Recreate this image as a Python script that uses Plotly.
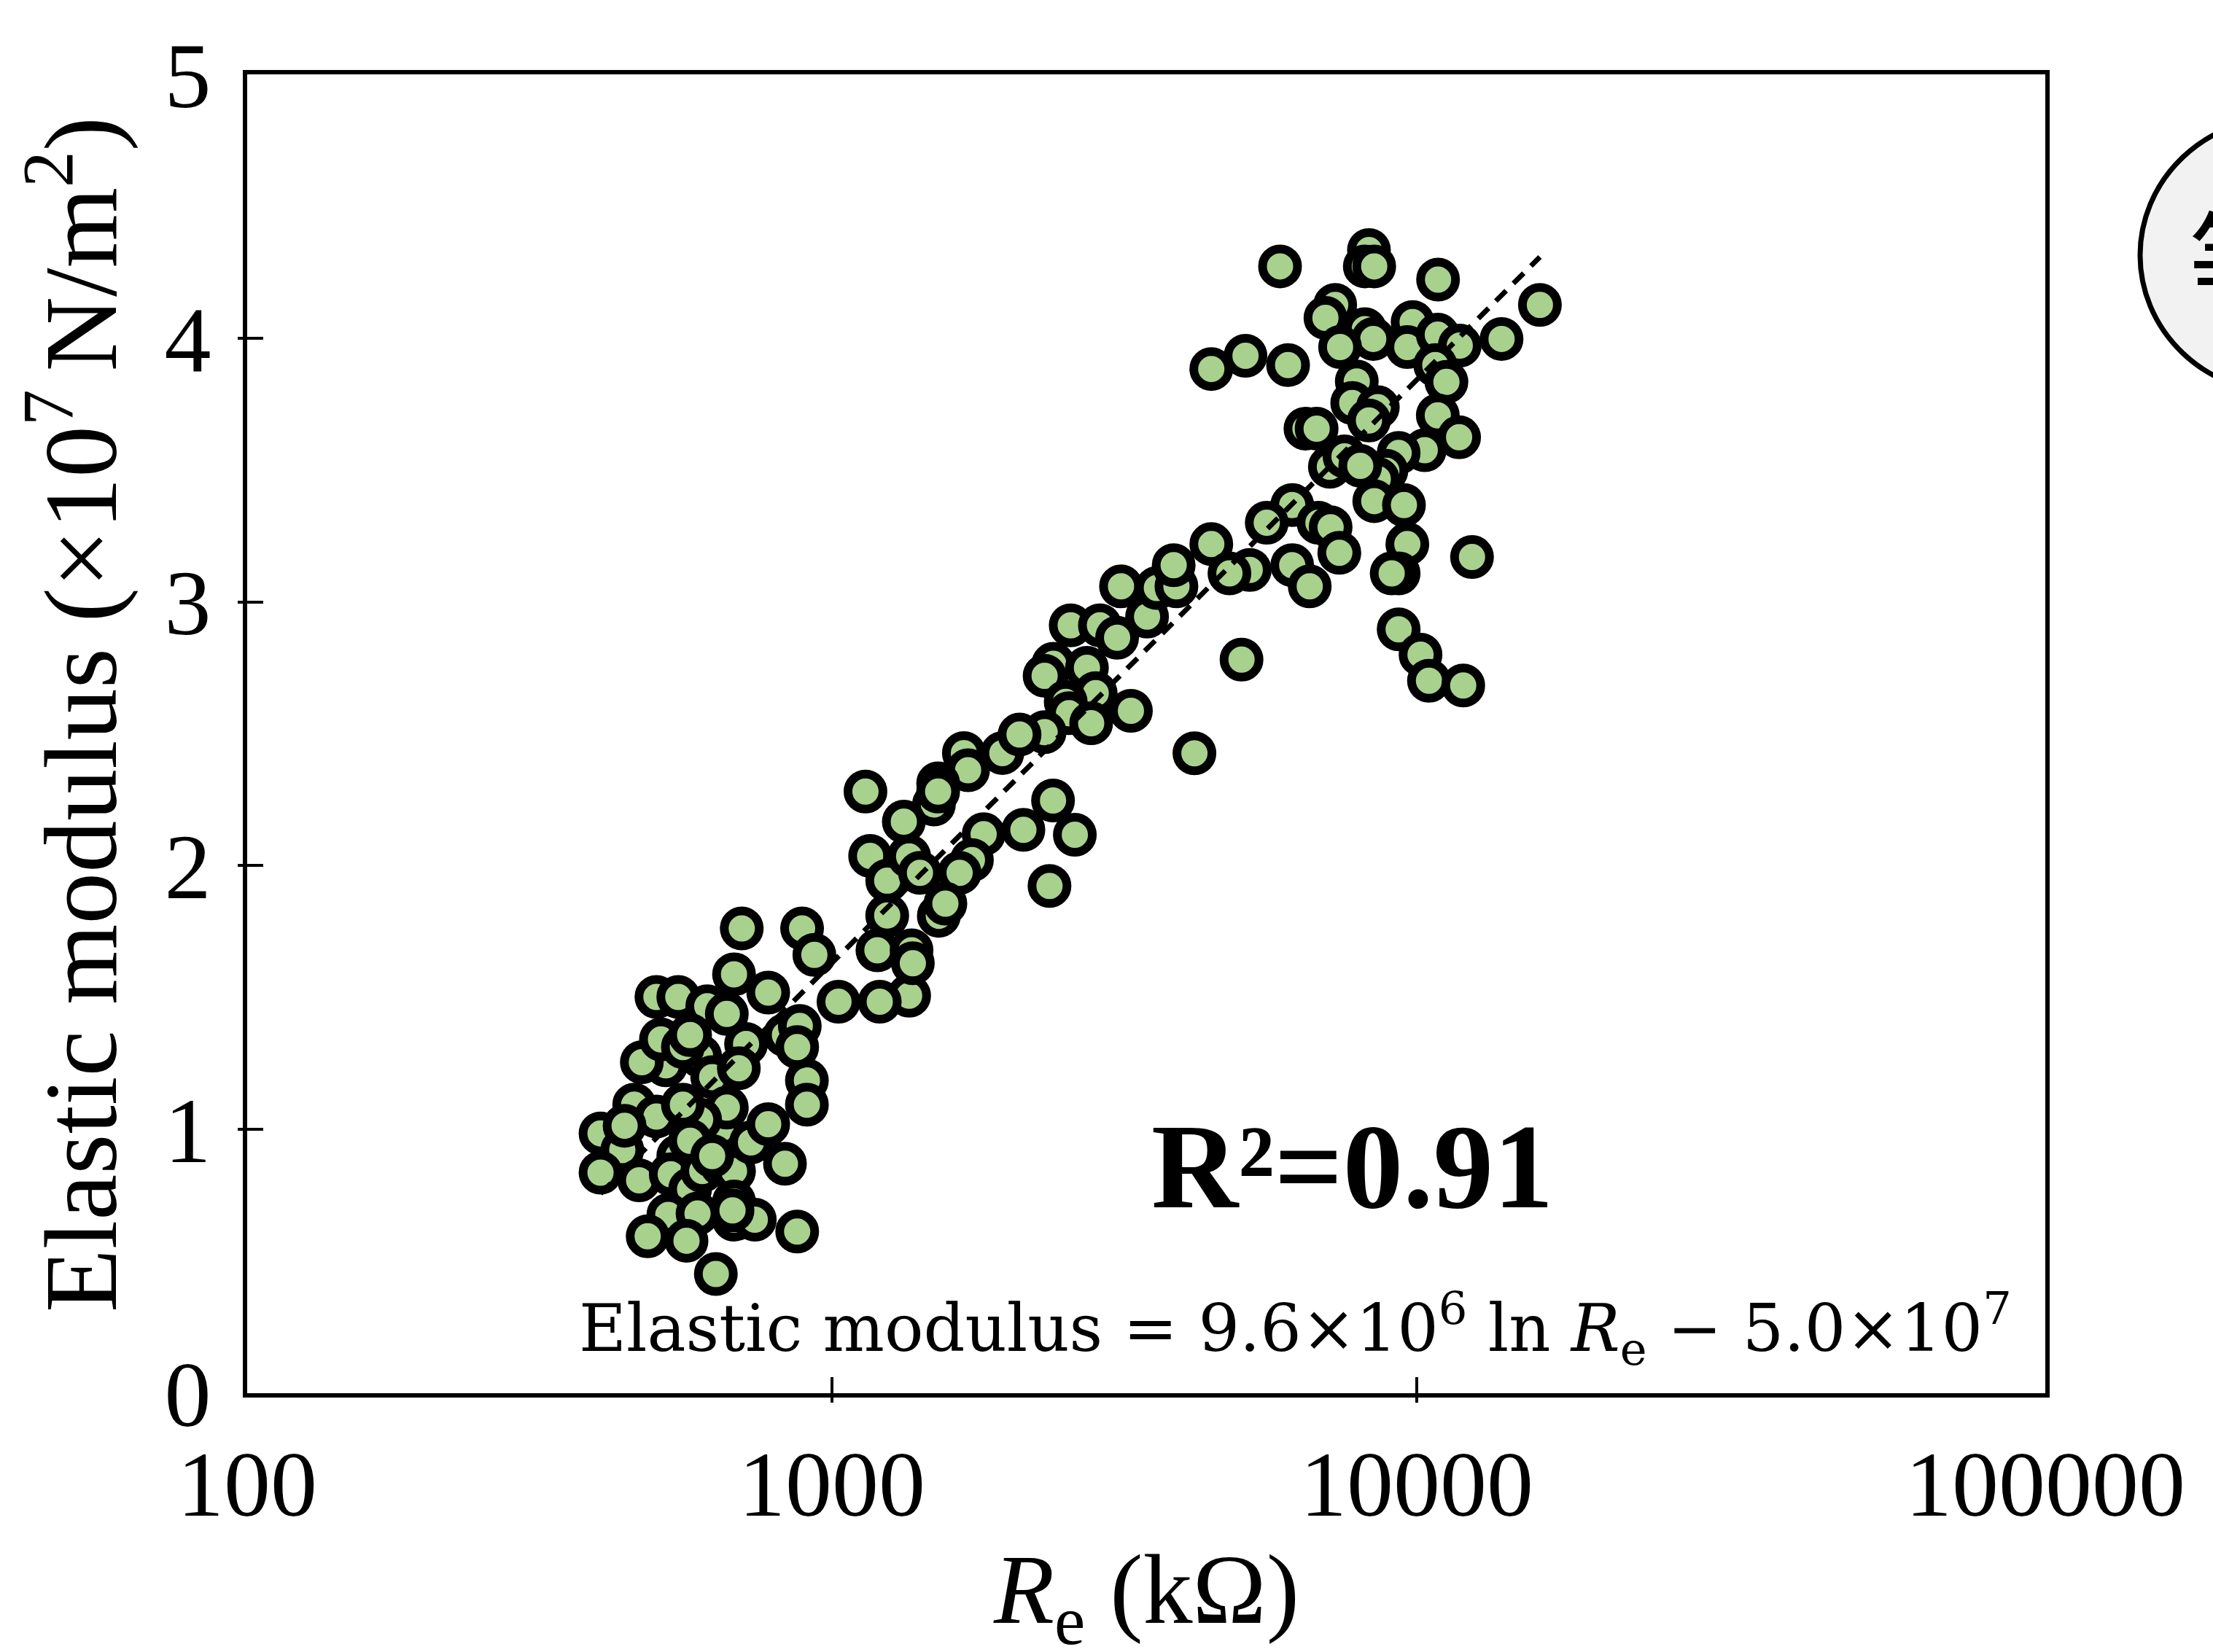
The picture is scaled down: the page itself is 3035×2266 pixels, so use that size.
import numpy as np
import plotly.graph_objects as go

# ---------------- data ----------------
re_kohm = [
    # lower-left cluster
    701, 889, 933, 501, 546, 612, 680, 778, 831, 881, 713, 595, 520, 473, 510, 556,
    624, 693, 906, 906, 459, 501, 402, 438, 442, 402, 468, 546, 530, 572, 600, 645,
    648, 680, 727, 778, 831, 661, 595, 556, 525, 589, 680, 680, 738, 872, 484, 564,
    633, 572, 661, 872, 572, 624, 676,
    # middle band
    1162, 1243, 1243, 1196, 1368, 1355, 1355, 1026, 1207,
    1141, 1681, 1956, 1709, 2560, 2872, 3073, 3458, 3121, 3594, 3882, 5016, 4167,
    2391, 2729, 2310, 2825, 2510, 2543, 3245, 2775, 2310, 2093, 1519, 1494, 1519,
    1327, 1414, 1817, 2125, 2388, 2602, 2355, 1735, 1653, 1523, 1563, 1375,
    # upper-right cluster
    5837, 8284, 8150, 8458, 10875, 16240, 7253, 6980, 8150, 9838, 8426, 9636, 10864,
    11845, 13964, 7394, 4453, 5095, 6025, 10757, 11240, 7897, 7756, 8579, 8284,
    10864, 11815, 10320, 6452, 6742, 7102, 7524, 9312, 8872, 8577, 8459, 9508, 8005,
    6124, 5540, 6790, 7124, 7372, 9636, 4453, 5181, 4783, 6124, 6561, 9312, 9060,
    3840, 12430, 9312, 10150, 10493, 12007,
]
elastic_1e7 = [
    1.762, 1.762, 1.662, 1.502, 1.502, 1.467, 1.588, 1.519, 1.358, 1.392, 1.324, 1.278,
    1.243, 1.255, 1.341, 1.312, 1.198, 1.232, 1.186, 1.094, 1.094, 1.049, 0.985, 0.922,
    1.014, 0.836, 0.807, 0.899, 0.830, 0.773, 0.842, 1.003, 0.865, 0.842, 0.951, 1.020,
    0.870, 1.083, 1.037, 1.094, 0.676, 0.681, 0.727, 0.658, 0.658, 0.613, 0.595, 0.578,
    0.452, 1.358, 1.438, 1.312, 0.957, 0.899, 0.693,
    2.037, 1.943, 1.811, 1.679, 1.679, 2.035, 1.507, 1.484, 1.484,
    2.281, 2.427, 2.427, 2.362, 2.911, 2.911, 2.864, 2.944, 3.059, 3.053, 3.059, 2.781,
    2.426, 2.765, 2.750, 2.720, 2.654, 2.621, 2.578, 2.587, 2.540, 2.506, 2.497, 2.312,
    2.232, 2.281, 2.167, 1.973, 2.119, 2.136, 2.247, 2.117, 1.923, 2.021, 1.973, 1.810,
    1.856, 1.630,
    4.272, 4.334, 4.272, 4.272, 4.222, 4.126, 4.126, 4.077, 4.034, 4.061, 3.997, 3.966,
    4.013, 3.972, 3.997, 3.966, 3.883, 3.933, 3.898, 3.898, 3.834, 3.836, 3.754, 3.738,
    3.688, 3.707, 3.624, 3.575, 3.657, 3.657, 3.512, 3.552, 3.565, 3.497, 3.466, 3.382,
    3.367, 3.516, 3.367, 3.300, 3.300, 3.283, 3.186, 3.219, 3.219, 3.121, 3.108, 3.139,
    3.059, 3.108, 3.108, 3.139, 3.170, 2.896, 2.800, 2.701, 2.683,
]
x_tick_values = [100, 1000, 10000]
x_tick_labels = ["100", "1000", "10000", "100000"]
y_tick_values = [0, 1, 2, 3, 4, 5]
y_tick_labels = ["0", "1", "2", "3", "4", "5"]
trend_slope = 9.6e6       # Elastic modulus = 9.6x10^6 ln Re - 5.0x10^7
trend_intercept = -5.0e7
y_unit = 1e7
r2_text = "R²=0.91"
equation_text = ("Elastic modulus = 9.6×10<sup>6</sup> ln <i>R</i><sub>e</sub>"
                 " − 5.0×10<sup>7</sup>")
y_title = "Elastic modulus (×10<sup>7 </sup>N/m<sup>2</sup>)"
x_title = "<i>R</i><sub>e</sub> (kΩ)"
bubble_char = "等"

# ---------------- layout geometry (pixels) ----------------
W, H = 3035, 2266
PL, PR, PT, PB = 339, 2805, 102, 1911
DECADE_PX = 802
x_range = [2, 2 + (PR - PL) / DECADE_PX]


def px2x(X):
    return (X - PL) / (PR - PL)


def py2y(Y):
    return (PB - Y) / (PB - PT)


SERIF = "Liberation Serif, Times New Roman, serif"

fig = go.Figure()

fig.add_trace(go.Scatter(
    x=re_kohm, y=elastic_1e7, mode="markers",
    marker=dict(size=48, color="#A9D18E", line=dict(color="black", width=12)),
    showlegend=False, hoverinfo="x+y",
))

r_lo, r_hi = min(re_kohm), max(re_kohm)
trend_x = [r_lo, r_hi]
trend_y = [(trend_slope * np.log(r) + trend_intercept) / y_unit for r in trend_x]
fig.add_trace(go.Scatter(
    x=trend_x, y=trend_y, mode="lines",
    line=dict(color="black", width=7, dash="20px,14px"),
    showlegend=False, hoverinfo="skip",
))

# empty trace so the overlay axes (outer halves of the cross ticks) are drawn
fig.add_trace(go.Scatter(x=[], y=[], xaxis="x2", yaxis="y2", showlegend=False))

tick_font = dict(family=SERIF, size=128, color="black")

fig.update_layout(
    width=W, height=H,
    margin=dict(l=PL, r=W - PR, t=PT, b=H - PB, pad=0),
    paper_bgcolor="white", plot_bgcolor="white",
    xaxis=dict(
        type="log", range=x_range,
        tickvals=x_tick_values + [10 ** x_range[1]], ticktext=x_tick_labels,
        ticks="inside", ticklen=22, tickwidth=4, tickcolor="black",
        showline=True, linewidth=6, linecolor="black", mirror=True,
        showgrid=False, zeroline=False,
        tickfont=tick_font, ticklabelstandoff=8,
    ),
    yaxis=dict(
        range=[0, 5], tickvals=y_tick_values, ticktext=y_tick_labels,
        ticks="inside", ticklen=22, tickwidth=4, tickcolor="black",
        showline=True, linewidth=6, linecolor="black", mirror=True,
        showgrid=False, zeroline=False,
        tickfont=tick_font, ticklabelstandoff=18,
    ),
    xaxis2=dict(
        type="log", range=x_range, overlaying="x", anchor="y2",
        tickvals=x_tick_values[1:], ticks="outside", ticklen=12, tickwidth=4,
        tickcolor="black", showticklabels=False, showline=False,
        showgrid=False, zeroline=False,
    ),
    yaxis2=dict(
        range=[0, 5], overlaying="y", anchor="x2",
        tickvals=y_tick_values[1:-1], ticks="outside", ticklen=12, tickwidth=4,
        tickcolor="black", showticklabels=False, showline=False,
        showgrid=False, zeroline=False,
    ),
    showlegend=False,
)

annotations = [
    dict(text=y_title, xref="paper", yref="paper", x=px2x(100), y=py2y(980),
         textangle=-90, xanchor="center", yanchor="middle", showarrow=False,
         font=dict(family=SERIF, size=142, color="black")),
    dict(text=x_title, xref="paper", yref="paper", x=px2x(1572), y=py2y(2190),
         xanchor="center", yanchor="middle", showarrow=False,
         font=dict(family=SERIF, size=136, color="black")),
    dict(text="<b>" + r2_text + "</b>", xref="paper", yref="paper",
         x=px2x(1854), y=py2y(1600), xanchor="center", yanchor="middle",
         showarrow=False, font=dict(family=SERIF, size=165, color="black")),
    dict(text=equation_text, xref="paper", yref="paper",
         x=px2x(1776), y=py2y(1822), xanchor="center", yanchor="middle",
         showarrow=False, font=dict(family="DejaVu Serif, serif", size=89, color="black")),
    dict(text=bubble_char, xref="paper", yref="paper",
         x=px2x(3000), y=py2y(240), xanchor="left", yanchor="top",
         showarrow=False, font=dict(family="Noto Sans CJK SC", size=150, color="black")),
]
fig.update_layout(annotations=annotations)

fig.add_shape(type="circle", xref="paper", yref="paper",
              x0=px2x(2935), x1=px2x(3335), y0=py2y(540), y1=py2y(160),
              fillcolor="#F2F2F2", line=dict(color="black", width=7), layer="above")

fig.write_html("out.html", config={"displayModeBar": False},
               post_script="document.body.style.margin='0px';")
